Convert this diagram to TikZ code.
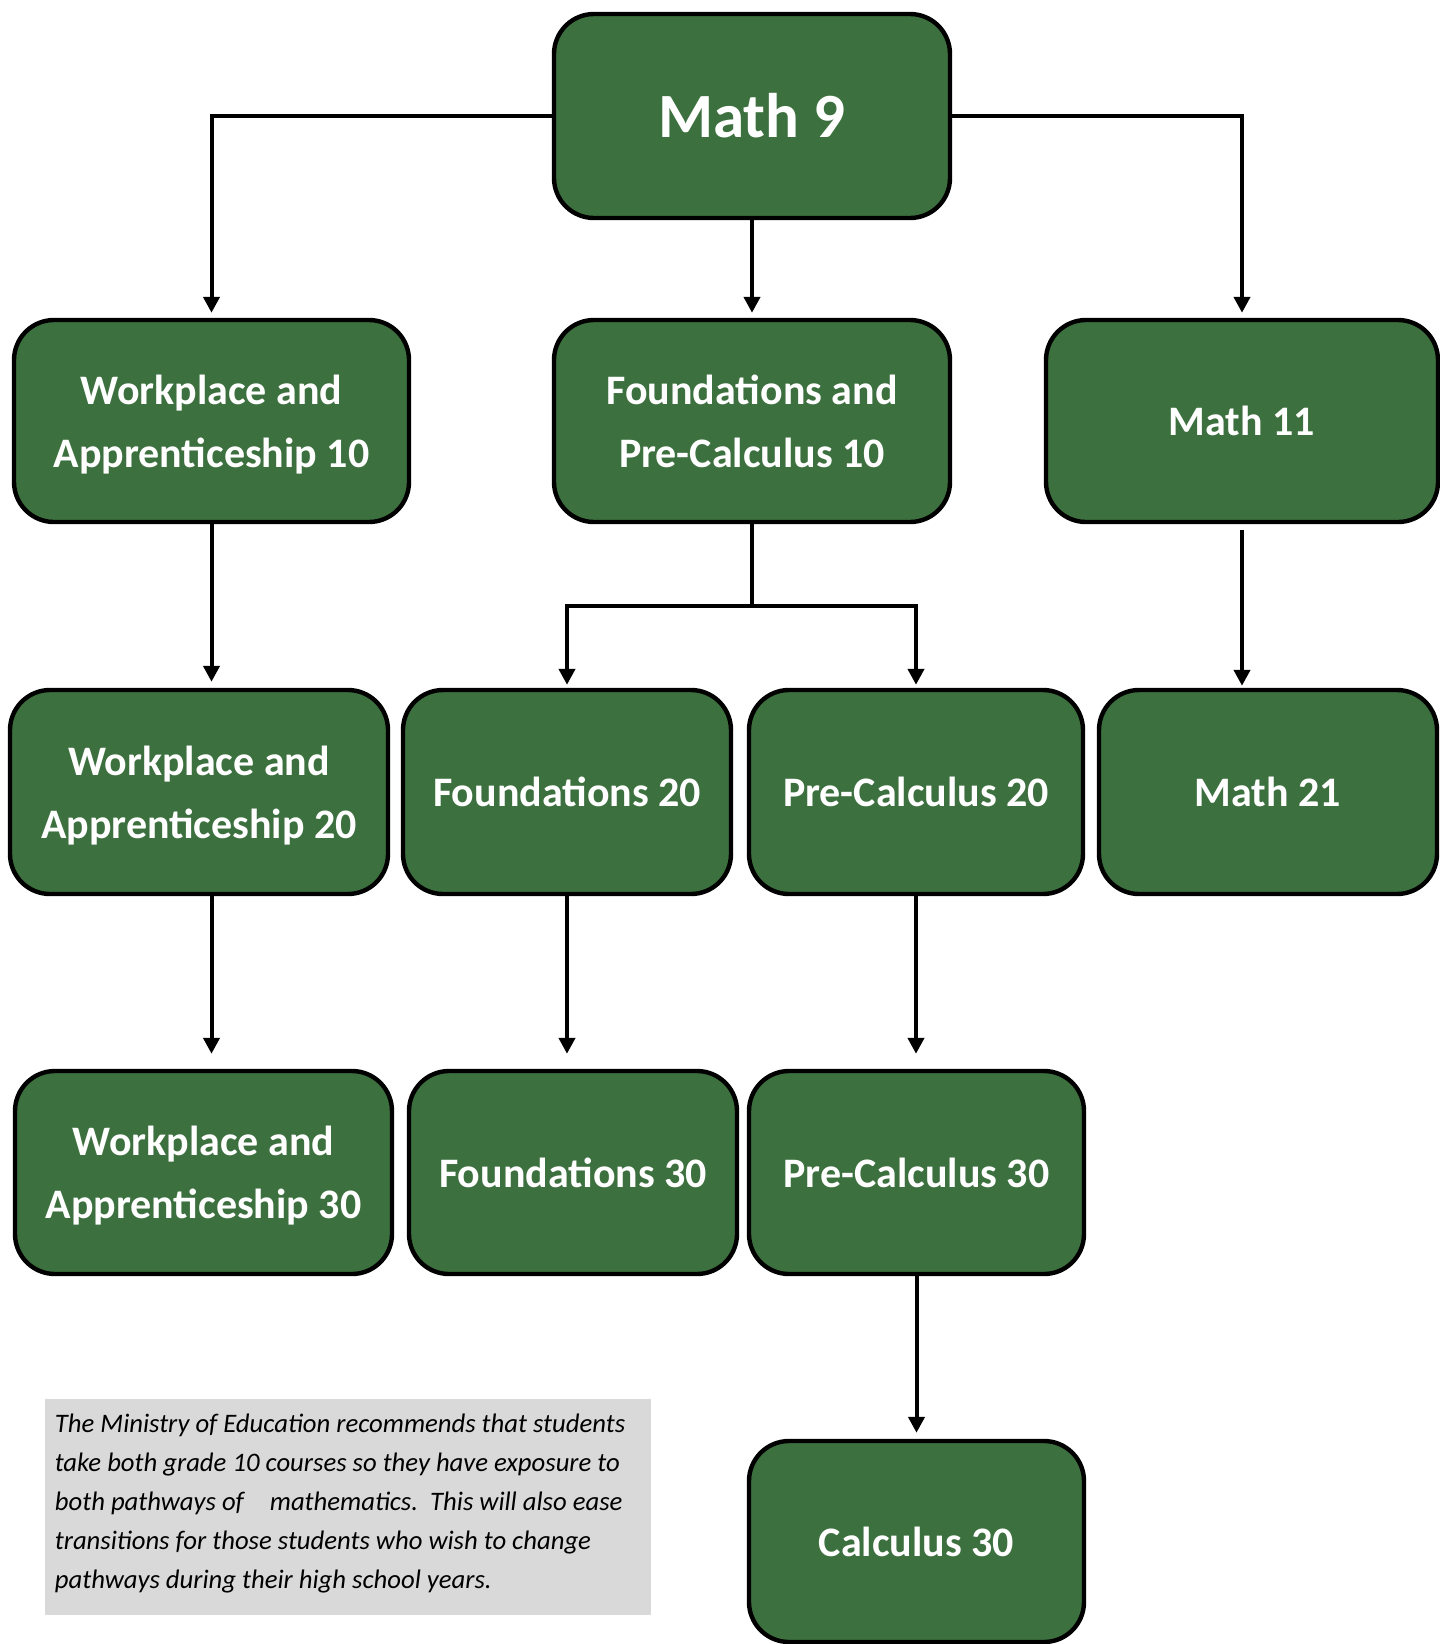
\documentclass[tikz,border=0pt]{standalone}
\usepackage{fontspec}
\setmainfont{Carlito}
\usetikzlibrary{arrows.meta}
\definecolor{boxgreen}{RGB}{61,112,63}
\definecolor{notegray}{RGB}{217,217,217}
\newcommand{\lift}{\rule{0pt}{19.5pt}}
\newcommand{\sink}{\rule[-4.6pt]{0pt}{4.6pt}}
\begin{document}
\begin{tikzpicture}[x=0.5pt,y=-0.5pt,
 course/.style={draw=black, line width=2.2pt, fill=boxgreen, rounded corners=20pt, text=white,
   font=\fontsize{21}{31.5}\selectfont\bfseries, align=center, inner sep=0pt},
 link/.style={line width=2pt, draw=black},
 arr/.style={link, -{Triangle[width=8pt,length=8pt]}}]
\useasboundingbox (0,0) rectangle (1440,1644);
% row 1
\node[course, minimum width=198pt, minimum height=102pt] (m9) at (752,116) {\fontsize{31.5}{36}\selectfont Math 9};
% row 2
\node[course, minimum width=197.5pt, minimum height=101pt] (wa10) at (211.5,421) {\lift Workplace and\\Apprenticeship 10\sink};
\node[course, minimum width=198pt, minimum height=101pt] (fpc10) at (752,421) {\lift Foundations and\\Pre-Calculus 10\sink};
\node[course, minimum width=196pt, minimum height=101pt] (m11) at (1242,421) {Math 11};
% row 3
\node[course, minimum width=189pt, minimum height=102pt] (wa20) at (199,792) {\lift Workplace and\\Apprenticeship 20\sink};
\node[course, minimum width=164pt, minimum height=102pt] (f20) at (567,792) {Foundations 20};
\node[course, minimum width=167pt, minimum height=102pt] (pc20) at (916,792) {Pre-Calculus 20};
\node[course, minimum width=169pt, minimum height=102pt] (m21) at (1268,792) {Math 21};
% row 4
\node[course, minimum width=188.5pt, minimum height=101.5pt] (wa30) at (203.5,1172.5) {\lift Workplace and\\Apprenticeship 30\sink};
\node[course, minimum width=164pt, minimum height=101.5pt] (f30) at (573,1172.5) {Foundations 30};
\node[course, minimum width=167.5pt, minimum height=101.5pt] (pc30) at (916.5,1172.5) {Pre-Calculus 30};
% row 5
\node[course, minimum width=167.5pt, minimum height=100.5pt] (c30) at (916.5,1541.5) {Calculus 30};
% note
\node[fill=notegray, minimum width=303pt, minimum height=108pt, inner sep=0pt] (note) at (348,1507) {};
\node[anchor=north west, align=left, inner sep=0pt, font=\fontsize{13.35}{19.5}\selectfont\itshape] (notetext) at (54.5,1414)
 {The Ministry of Education recommends that students\\
  take both grade 10 courses so they have exposure to\\
  both pathways of\hspace{13pt}mathematics.\ \ This will also ease\\
  transitions for those students who wish to change\\
  pathways during their high school years.};
% connectors
\draw[arr, shorten >=2.5pt] (m9.west) -| (wa10.north);
\draw[arr, shorten >=2.5pt] (m9.south) -- (fpc10.north);
\draw[arr, shorten >=2.5pt] (m9.east) -| (m11.north);
\draw[arr, shorten >=3pt] (wa10.south) -- (wa10.south |- wa20.north);
\coordinate (split) at (752,606);
\draw[link] (fpc10.south) -- (split);
\draw[arr, shorten >=1.5pt] (split) -| (f20.north);
\draw[arr, shorten >=1.5pt] (split) -| (pc20.north);
\draw[arr, shorten >=1pt] ([yshift=-3pt]m11.south) -- (m11.south |- m21.north);
\draw[arr, shorten >=7.5pt] (wa10.south |- wa20.south) -- (wa10.south |- wa30.north);
\draw[arr, shorten >=7.5pt] (f20.south) -- (f20.south |- f30.north);
\draw[arr, shorten >=7.5pt] (pc20.south) -- (pc20.south |- pc30.north);
\draw[arr, shorten >=3pt] (pc30.south) -- (pc30.south |- c30.north);
\end{tikzpicture}
\end{document}
